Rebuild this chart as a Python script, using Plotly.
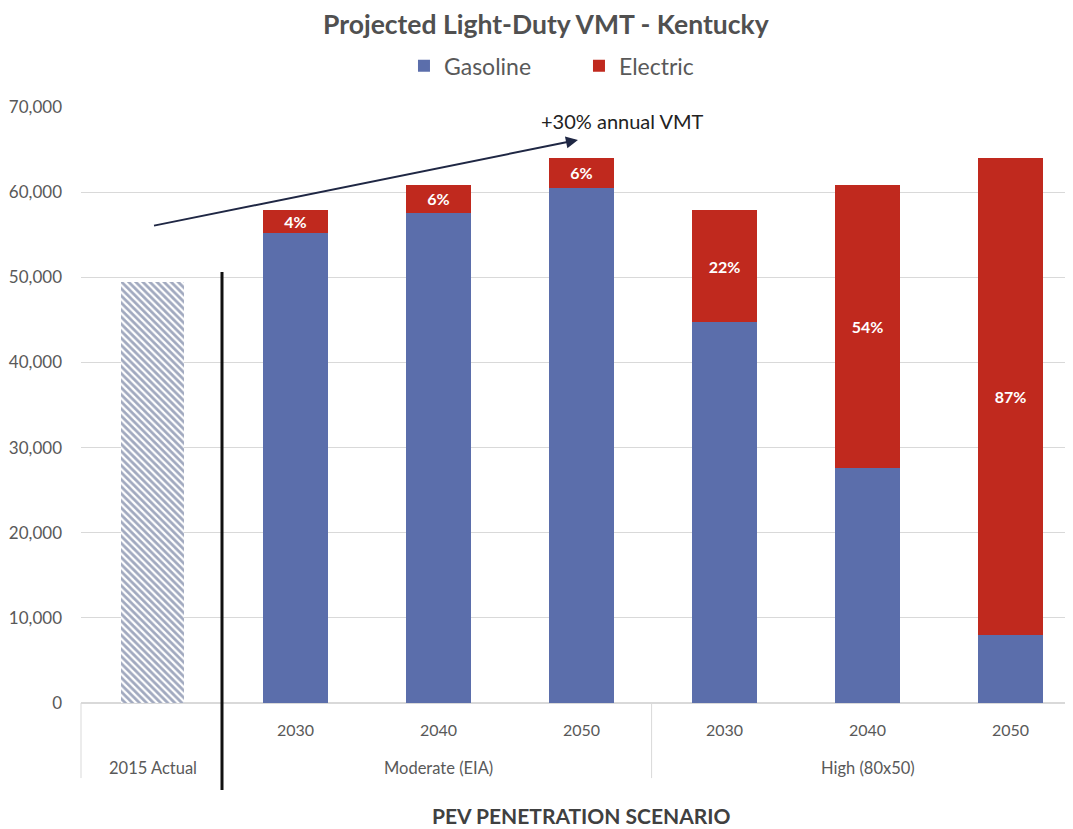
import plotly.graph_objects as go

# ---- data ----
categories = ["2015 Actual", "2030", "2040", "2050", "2030", "2040", "2050"]
groups = ["Moderate (EIA)", "High (80x50)"]
actual_2015 = [49400]
gasoline = [None, 55200, 57550, 60490, 44750, 27600, 7990]
electric = [None, 2700, 3290, 3520, 13150, 33240, 56010]
electric_share = ["", "4%", "6%", "6%", "22%", "54%", "87%"]
y_ticks = [0, 10000, 20000, 30000, 40000, 50000, 60000, 70000]

xs = list(range(len(categories)))
FONT = "Lato, Open Sans, sans-serif"
GREY = "#595959"
BLUE = "#5b6eab"
RED = "#c0291e"

fig = go.Figure()
fig.add_trace(go.Bar(
    x=[0], y=actual_2015, width=0.44, showlegend=False,
    marker=dict(color="white", line=dict(width=0),
                pattern=dict(shape="\\", fgcolor="#44547f", bgcolor="white", size=5, solidity=0.55)),
    hoverinfo="skip"))
fig.add_trace(go.Bar(
    x=xs, y=gasoline, width=0.45, name="Gasoline",
    marker=dict(color=BLUE, line=dict(width=0))))
fig.add_trace(go.Bar(
    x=xs, y=electric, width=0.45, name="Electric",
    marker=dict(color=RED, line=dict(width=0)),
    text=electric_share, textposition="inside", insidetextanchor="middle",
    textangle=0, constraintext="none",
    textfont=dict(color="white", size=16, family=FONT, weight="bold")))

ann = []
for i, c in enumerate(categories):
    if i == 0:
        continue
    ann.append(dict(x=i, y=-0.045, xref="x", yref="paper", text=c, showarrow=False,
                    font=dict(size=16, color=GREY, family=FONT), yanchor="middle"))
ann.append(dict(x=0, y=-0.109, xref="x", yref="paper", text=categories[0], showarrow=False,
                font=dict(size=16.5, color=GREY, family=FONT), yanchor="middle"))
ann.append(dict(x=2, y=-0.109, xref="x", yref="paper", text=groups[0], showarrow=False,
                font=dict(size=16.5, color=GREY, family=FONT), yanchor="middle"))
ann.append(dict(x=5, y=-0.109, xref="x", yref="paper", text=groups[1], showarrow=False,
                font=dict(size=16.5, color=GREY, family=FONT), yanchor="middle"))
ann.append(dict(x=3.0, y=-0.188, xref="x", yref="paper", text="<b>PEV PENETRATION SCENARIO</b>",
                showarrow=False, font=dict(size=21, color="#404040", family=FONT), yanchor="middle"))
ann.append(dict(x=2.975, y=66130, ax=0.0, ay=56030, xref="x", yref="y", axref="x", ayref="y",
                text="", showarrow=True, arrowhead=2, arrowsize=1.2, arrowwidth=2,
                arrowcolor="#1f2744"))
ann.append(dict(x=3.29, y=68400, xref="x", yref="y", text="+30% annual VMT", showarrow=False,
                font=dict(size=20, color="#222222", family=FONT), yanchor="middle"))

shapes = [
    dict(type="line", xref="x", yref="paper", x0=0.486, x1=0.486, y0=-0.146, y1=0.723,
         line=dict(color="#111111", width=3)),
    dict(type="line", xref="paper", yref="paper", x0=0, x1=0, y0=0, y1=-0.126,
         line=dict(color="#d9d9d9", width=1)),
    dict(type="line", xref="x", yref="paper", x0=3.49, x1=3.49, y0=0, y1=-0.126,
         line=dict(color="#d9d9d9", width=1)),
]

fig.update_layout(
    width=1065, height=821,
    margin=dict(l=73, r=0, t=99, b=126),
    paper_bgcolor="white", plot_bgcolor="white",
    barmode="stack",
    title=dict(text="<b>Projected Light-Duty VMT - Kentucky</b>", x=0.505, xanchor="center",
               y=0.991, yanchor="top", pad=dict(t=0, b=0),
               font=dict(size=26.5, color="#505050", family=FONT)),
    legend=dict(orientation="h", x=0.502, xanchor="center", y=1.069, yanchor="middle",
                font=dict(size=23, color=GREY, family=FONT), traceorder="normal",
                itemwidth=30, entrywidth=130, bgcolor="rgba(0,0,0,0)"),
    annotations=ann, shapes=shapes,
    xaxis=dict(range=[-0.5, 6.437], showticklabels=False, showgrid=False, zeroline=False,
               showline=False, fixedrange=True),
    yaxis=dict(range=[0, 70000], tickvals=y_ticks, tickformat=",", showgrid=True,
               gridcolor="#d9d9d9", gridwidth=1, zeroline=True, zerolinecolor="#d9d9d9",
               tickfont=dict(size=17, color=GREY, family=FONT), ticks="", ticklabelstandoff=18,
               showline=False),
    bargap=0.55,
)
fig.write_html("out.html")
